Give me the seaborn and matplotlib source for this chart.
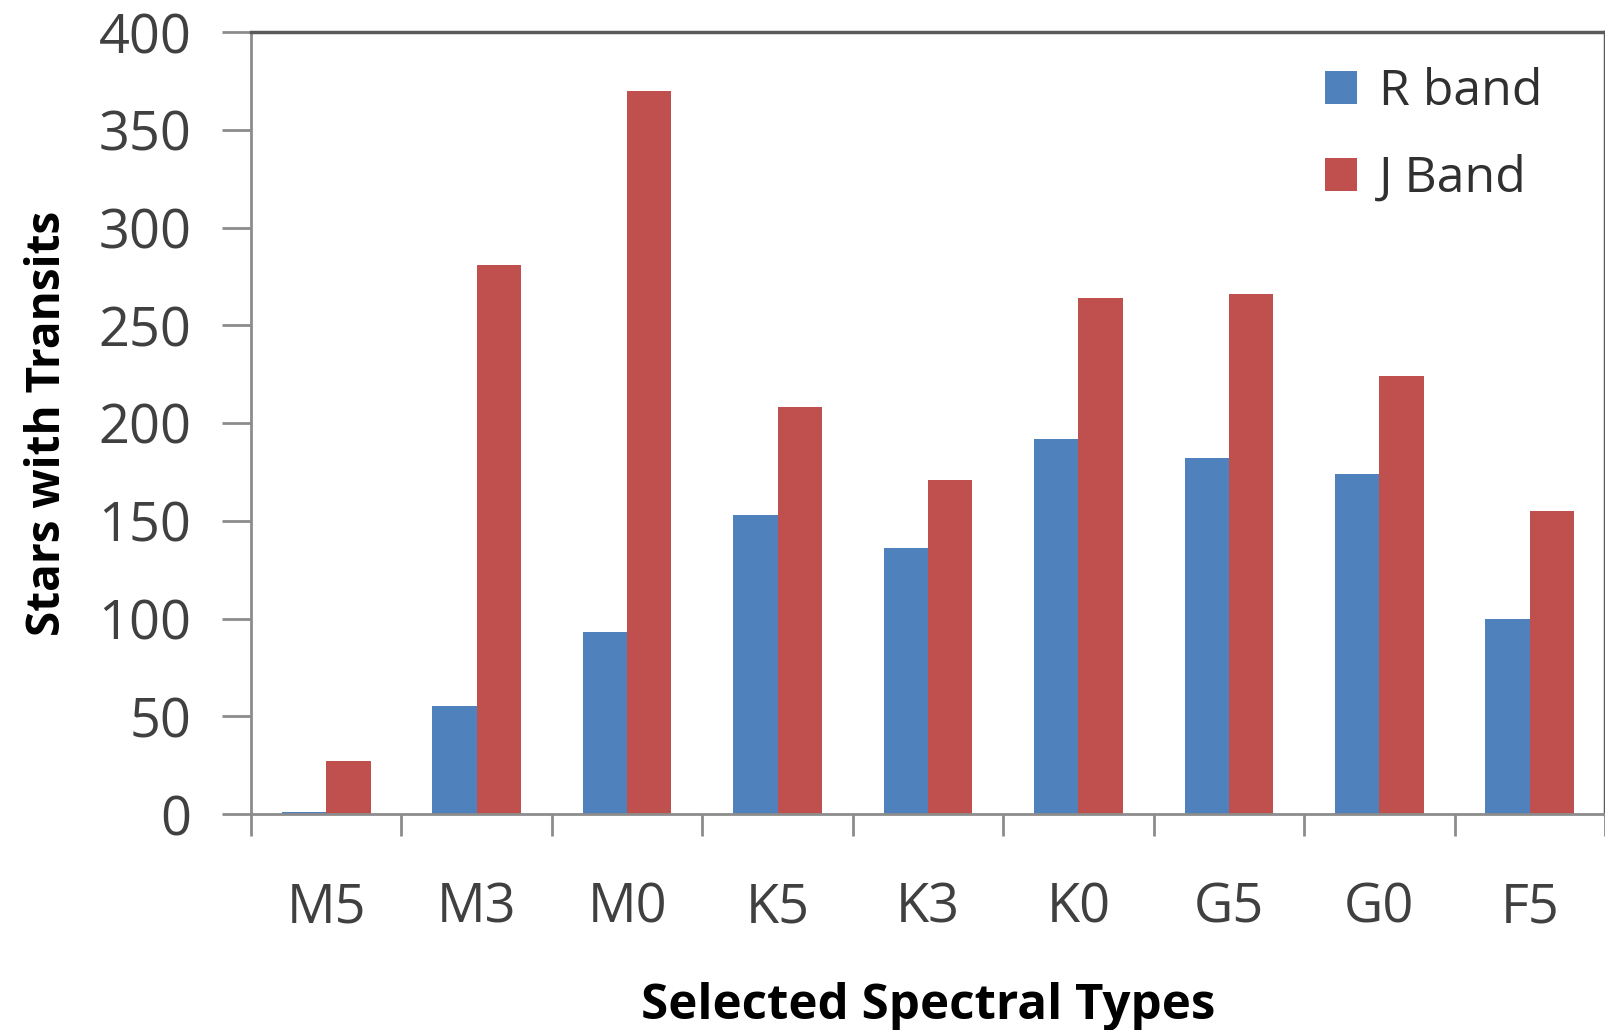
import matplotlib
matplotlib.use("Agg")
import matplotlib.pyplot as plt
import seaborn as sns
import pandas as pd
import numpy as np

categories = ["M5", "M3", "M0", "K5", "K3", "K0", "G5", "G0", "F5"]
r_band = [1, 55, 93, 153, 136, 192, 182, 174, 100]
j_band = [27, 281, 370, 208, 171, 264, 266, 224, 155]
series_names = ["R band", "J Band"]
y_ticks = [0, 50, 100, 150, 200, 250, 300, 350, 400]

df = pd.DataFrame({
    "Type": categories * 2,
    "Band": [series_names[0]] * len(categories) + [series_names[1]] * len(categories),
    "Stars": r_band + j_band,
})

sns.set_theme(style="white")
plt.rcParams['font.family'] = ['Open Sans', 'DejaVu Sans']

fig = plt.figure(figsize=(16.06, 10.30), dpi=100)
ax = fig.add_axes([251/1606, 216/1030, (1605-251)/1606, (814-32)/1030])

sns.barplot(data=df, x="Type", y="Stars", hue="Band", order=categories,
            hue_order=series_names, palette=["#4F81BD", "#C0504D"],
            width=0.59, gap=0, saturation=1, linewidth=0, ax=ax)

ax.set_ylim(0, 400)
ax.set_xlim(-0.5, len(categories) - 0.5)
ax.set_yticks(y_ticks)
ax.set_yticklabels([str(v) for v in y_ticks])

# x ticks at category boundaries
ax.set_xticks(np.arange(-0.5, len(categories) + 0.5, 1.0), minor=True)
ax.tick_params(axis="x", which="major", length=0, pad=48, labelsize=39, labelcolor="#404040")
ax.tick_params(axis="x", which="minor", length=16, width=2, color="#8c8c8c", direction="out", bottom=True)
ax.tick_params(axis="y", which="major", length=21, width=2, color="#8c8c8c", direction="out",
               pad=22, labelsize=39, labelcolor="#404040", left=True)

for side in ["left", "bottom"]:
    ax.spines[side].set_color("#8c8c8c")
    ax.spines[side].set_linewidth(2)
for side in ["top", "right"]:
    ax.spines[side].set_visible(True)
    ax.spines[side].set_color("#5a5a5a")
    ax.spines[side].set_linewidth(2.5)

ax.set_xlabel("Selected Spectral Types", fontsize=35.5, fontweight="bold", color="black")
ax.set_ylabel("Stars with Transits", fontsize=33, fontweight="bold", color="black")
ax.xaxis.set_label_coords(0.5, -0.215)
ax.yaxis.set_label_coords(-0.133, 0.5)

leg = ax.legend(loc="upper right", bbox_to_anchor=(0.987, 1.012), frameon=False,
                fontsize=36, handlelength=0.64, handleheight=0.64, handletextpad=0.45,
                labelspacing=0.75, labelcolor="#303030")

fig.savefig("out.png", dpi=100)
